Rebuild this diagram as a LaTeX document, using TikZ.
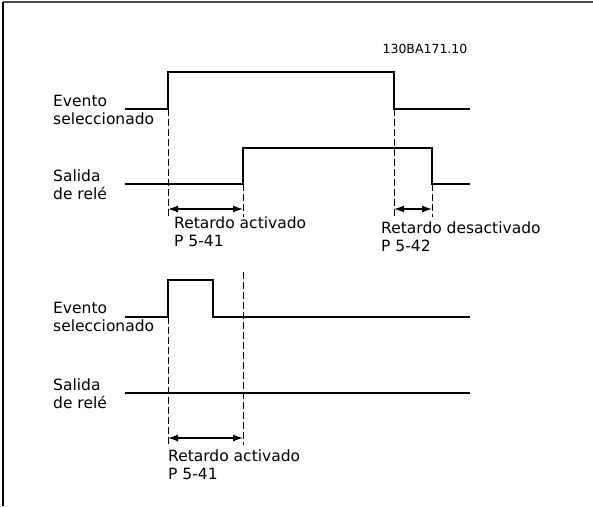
\documentclass[tikz,border=0pt]{standalone}
\usepackage{fontspec}
\setmainfont{DejaVu Sans}
\usetikzlibrary{arrows.meta}
\tikzset{
  signal/.style={line width=1.7pt},
  guide/.style={line width=0.9pt,dash pattern=on 7pt off 3pt},
  delay/.style={{Latex[length=10pt,width=7pt]}-{Latex[length=10pt,width=7pt]},line width=1.3pt},
  lbl/.style={anchor=west,align=left,inner sep=0pt,font=\fontsize{15.5}{18}\selectfont},
  code/.style={inner sep=0pt,font=\fontsize{12.5}{14}\selectfont}
}

\begin{document}
\begin{tikzpicture}[x=1pt,y=-1pt]
\useasboundingbox (0,0) rectangle (593,506);

% Frame
\draw[gray!60!black,line width=1.2pt] (3,2) -- (593,2);
\draw[line width=1.6pt] (3,2) -- (3,506);

\node[code] (drawno) at (425,49) {130BA171.10};

% Upper case: event longer than the on delay
\node[lbl] (evtA) at (53,110) {Evento\\seleccionado};
\node[lbl] (relA) at (53,185) {Salida\\de relé};

\draw[signal] (125,109) -- (168,109) -- (168,72) -- (394,72) -- (394,109) -- (470,109);
\draw[signal] (125,184) -- (243,184) -- (243,148) -- (432,148) -- (432,184) -- (470,184);

% Lower case: event shorter than the on delay
\node[lbl] (evtB) at (53,317) {Evento\\seleccionado};
\node[lbl] (relB) at (53,394) {Salida\\de relé};

\draw[signal] (125,317) -- (168,317) -- (168,280) -- (213,280) -- (213,317) -- (470,317);
\draw[signal] (125,393) -- (470,393);

% Dashed guides
\foreach \x/\ya/\yb in {168/109/217, 243/184/217, 394/109/217, 432/184/217,
                        168/317/445, 243/272/445}
{
  \draw[guide] (\x,\ya) -- (\x,\yb);
}

% Delay arrows
\coordinate (onA1) at (168,209);
\coordinate (onA2) at (243,209);
\coordinate (offA1) at (394,209);
\coordinate (offA2) at (432,209);
\coordinate (onB1) at (168,438);
\coordinate (onB2) at (243,438);

\draw[delay] (onA1) -- (onA2);
\draw[delay] (offA1) -- (offA2);
\draw[delay] (onB1) -- (onB2);

\node[lbl] (onAtxt) at (174,232) {Retardo activado\\P 5-41};
\node[lbl] (offAtxt) at (381,237) {Retardo desactivado\\P 5-42};
\node[lbl] (onBtxt) at (168,465) {Retardo activado\\P 5-41};

\end{tikzpicture}
\end{document}
